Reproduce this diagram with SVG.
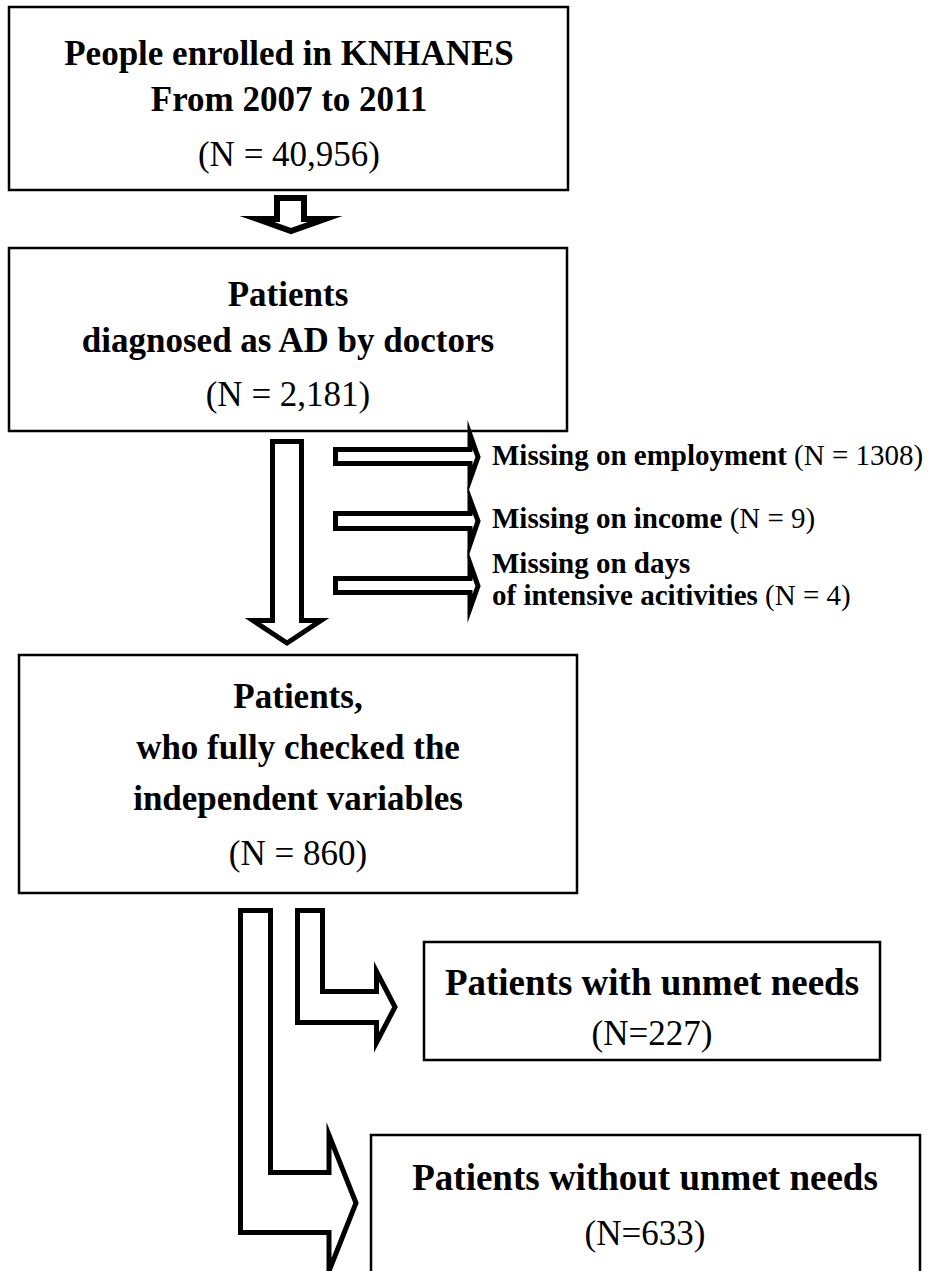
<svg xmlns="http://www.w3.org/2000/svg" width="931" height="1271" viewBox="0 0 931 1271">
<style>
.box{fill:#fff;stroke:#000;stroke-width:2.5}
.t{font-family:"Liberation Serif","Times New Roman",serif;font-size:35px;fill:#000;text-anchor:middle}
.b{font-weight:bold}
.big{font-size:37px}
.s{font-family:"Liberation Serif","Times New Roman",serif;font-size:29px;fill:#000}
.arr{fill:#fff;stroke:#000;stroke-width:5;stroke-linejoin:miter;stroke-miterlimit:10}
</style>
<rect width="931" height="1271" fill="#fff"/>
<g id="node1">
<rect class="box" x="9" y="7" width="559" height="183"/>
<text class="t b" x="289" y="65">People enrolled in KNHANES</text>
<text class="t b" x="289" y="111">From 2007 to 2011</text>
<text class="t" x="289" y="166">(N = 40,956)</text>
</g>
<g id="node2">
<rect class="box" x="9" y="248" width="558" height="183"/>
<text class="t b" x="288" y="306">Patients</text>
<text class="t b" x="288" y="352">diagnosed as AD by doctors</text>
<text class="t" x="288" y="406">(N = 2,181)</text>
</g>
<g id="node3">
<rect class="box" x="19" y="655" width="558" height="238"/>
<text class="t b" x="298" y="708">Patients,</text>
<text class="t b" x="298" y="759">who fully checked the</text>
<text class="t b" x="298" y="810">independent variables</text>
<text class="t" x="298" y="865">(N = 860)</text>
</g>
<g id="node4">
<rect class="box" x="424" y="942" width="456" height="118"/>
<text class="t b big" x="652" y="995">Patients with unmet needs</text>
<text class="t" x="652" y="1045">(N=227)</text>
</g>
<g id="node5">
<rect class="box" x="371" y="1135" width="549" height="140"/>
<text class="t b big" x="645" y="1190">Patients without unmet needs</text>
<text class="t" x="645" y="1245">(N=633)</text>
</g>
<g id="excl1">
<text class="s" x="492" y="465"><tspan font-weight="bold">Missing on employment</tspan> (N = 1308)</text>
</g>
<g id="excl2">
<text class="s" x="492" y="528"><tspan font-weight="bold">Missing on income</tspan> (N = 9)</text>
</g>
<g id="excl3">
<text class="s" x="492" y="573" font-weight="bold">Missing on days</text>
<text class="s" x="492" y="605"><tspan font-weight="bold">of intensive acitivities</tspan> (N = 4)</text>
</g>
<g id="connectors">
<path class="arr" style="stroke-width:6" d="M277,198 H304 V219 H325 L291,231 L257,219 H277 Z"/>
<path class="arr" d="M335.5,449.5 H470 V434.5 L478,457 L470,479.5 V463.5 H335.5 Z"/>
<path class="arr" d="M335.5,513.5 H470 V499.5 L478,521 L470,544.5 V528.5 H335.5 Z"/>
<path class="arr" d="M335.5,578.5 H470 V563.5 L478,586 L470,608.5 V592.5 H335.5 Z"/>
<path class="arr" d="M272.5,441.5 H301.5 V620.5 H321 L287,643 L253,620.5 H272.5 Z"/>
<path class="arr" d="M297.5,910.5 H322.5 V991.5 H376.5 V971.5 L395,1007 L376.5,1042.5 V1022.5 H297.5 Z"/>
<path class="arr" d="M240.5,910.5 H270.5 V1172.5 H329 V1135 L356,1203 L329,1271 V1232.5 H240.5 Z"/>
</g>
</svg>
